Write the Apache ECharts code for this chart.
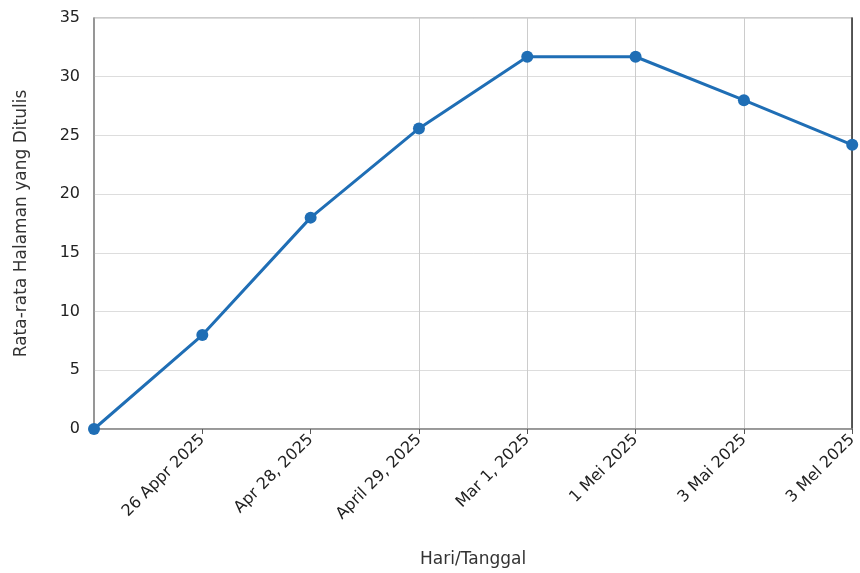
<!DOCTYPE html>
<html>
<head>
<meta charset="utf-8">
<script src="https://cdn.jsdelivr.net/npm/echarts@6/dist/echarts.min.js"></script>
<style>html,body{margin:0;padding:0;background:#fff}#c{width:860px;height:573px}</style>
</head>
<body>
<div id="c"></div>
<script>
const categories = ['', '26 Appr 2025', 'Apr 28, 2025', 'April 29, 2025', 'Mar 1, 2025', '1 Mei 2025', '3 Mai 2025', '3 Mel 2025'];
const values = [0, 8.0, 18.0, 25.6, 31.7, 31.7, 28.0, 24.2];
const yTicks = [0, 5, 10, 15, 20, 25, 30, 35];
const gridCats = [3, 4, 5, 6];

const chart = echarts.init(document.getElementById('c'));
const font = 'DejaVu Sans';
chart.setOption({
  animation: false,
  grid: { left: 94, right: 4, top: 18, bottom: 143, show: true, borderColor: '#999', borderWidth: 1.2 },
  xAxis: {
    type: 'category', data: categories, boundaryGap: false,
    name: 'Hari/Tanggal', nameLocation: 'middle', nameGap: 122,
    nameTextStyle: { fontFamily: font, fontSize: 17, color: '#333' },
    axisLine: { lineStyle: { color: '#888', width: 1.5 } },
    axisTick: { lineStyle: { color: '#555' }, length: 5 },
    axisLabel: { rotate: 45, fontFamily: font, fontSize: 16, color: '#222', margin: 8 },
    splitLine: { show: true, interval: (i) => gridCats.includes(i), lineStyle: { color: '#ccc' } }
  },
  yAxis: [{
    type: 'value', min: yTicks[0], max: yTicks[yTicks.length - 1], interval: 5,
    name: 'Rata-rata Halaman yang Ditulis', nameLocation: 'middle', nameGap: 64,
    nameTextStyle: { fontFamily: font, fontSize: 17, color: '#333' },
    axisLine: { show: true, lineStyle: { color: '#888', width: 1.5 } },
    axisTick: { show: false },
    axisLabel: { fontFamily: font, fontSize: 16, color: '#222', margin: 14 },
    splitLine: { show: true, lineStyle: { color: '#ddd' } }
  }, {
    type: 'value', position: 'right', min: 0, max: 35,
    axisLine: { show: true, lineStyle: { color: '#333', width: 1.5 } },
    axisTick: { show: false }, axisLabel: { show: false }, splitLine: { show: false }
  }],
  series: [{
    type: 'line', data: values, clip: false,
    symbol: 'circle', symbolSize: 12,
    lineStyle: { color: '#1f6eb5', width: 3 },
    itemStyle: { color: '#1f6eb5' }
  }]
});
</script>
</body>
</html>
